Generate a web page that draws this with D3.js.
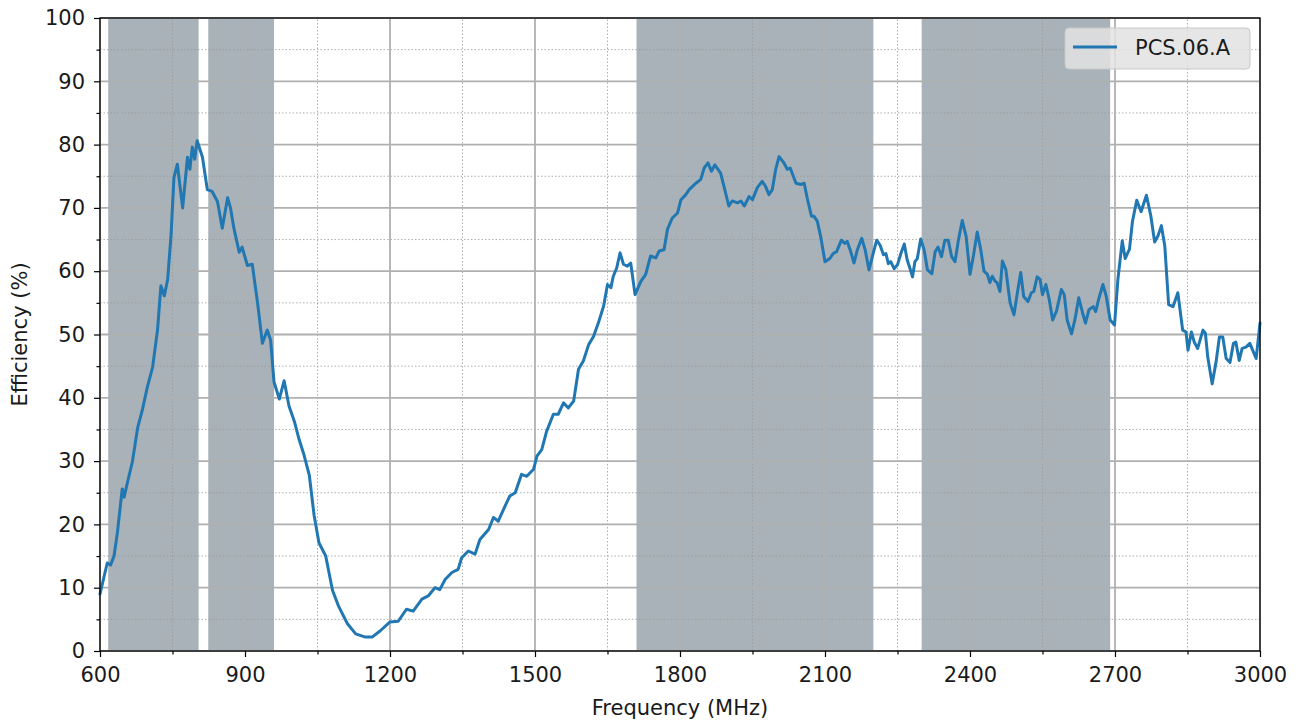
<!DOCTYPE html>
<html lang="en">
<head>
    <meta charset="UTF-8">
    <title>PCS.06.A Efficiency</title>
    <script src="https://d3js.org/d3.v7.min.js"></script>
    <style>
        body{
            margin: 0;
            background: #fff;
        }
        svg text{
            font-family: "DejaVu Sans", sans-serif;
            fill: #1a1a1a;
        }
    </style>
</head>
<body>
    <div id="chart"></div>

    <script>
        // measured points (MHz, %)
        const freqMHz = [
            600,615,622,629,636,646,650,657,667,678,688,698,709,719,726,733,740,747,753,760,
            771,781,786,791,796,801,812,822,832,843,853,864,870,877,888,894,905,915,926,936,
            946,953,960,971,981,991,1002,1012,1022,1033,1043,1053,1067,1081,1094,1112,1129,1149,1163,1180,
            1200,1217,1234,1248,1266,1279,1293,1303,1314,1328,1341,1348,1362,1376,1386,1404,1414,1424,1438,1448,
            1459,1472,1483,1497,1504,1514,1524,1538,1548,1559,1569,1580,1590,1600,1611,1621,1631,1642,1650,1657,
            1662,1669,1676,1683,1691,1698,1707,1719,1729,1739,1750,1757,1767,1774,1784,1795,1802,1812,1819,1826,
            1833,1843,1850,1858,1865,1872,1884,1891,1901,1908,1919,1926,1933,1943,1950,1960,1970,1977,1984,1991,
            1998,2005,2015,2022,2028,2040,2050,2057,2063,2072,2077,2084,2091,2100,2110,2117,2124,2134,2141,2146,
            2152,2160,2167,2176,2183,2191,2199,2207,2214,2221,2226,2231,2236,2243,2250,2257,2264,2270,2276,2281,
            2286,2291,2298,2305,2312,2321,2328,2334,2341,2348,2355,2362,2369,2376,2384,2392,2400,2407,2415,2422,
            2429,2436,2441,2446,2452,2456,2462,2467,2474,2483,2491,2498,2505,2511,2520,2527,2532,2539,2545,2550,
            2557,2564,2571,2579,2589,2595,2601,2610,2617,2625,2633,2639,2646,2655,2660,2666,2675,2682,2690,2699,
            2706,2715,2721,2730,2736,2745,2754,2765,2774,2782,2789,2796,2803,2811,2820,2830,2840,2847,2851,2858,
            2864,2871,2882,2887,2892,2901,2909,2916,2923,2930,2938,2945,2950,2957,2963,2971,2979,2985,2992,3000
        ];
        const efficiency = [
            9,13.9,13.6,15,18.7,25.6,24.3,26.7,29.9,35.3,38.2,41.7,44.9,50.7,57.7,56.1,58.7,65.7,74.8,76.9,
            70,78,76.1,79.6,77.7,80.6,78,72.9,72.6,71,66.8,71.6,70,66.8,63,63.8,60.9,61.1,55,48.6,
            50.7,49.1,42.5,39.8,42.7,38.7,36.3,33.4,31,27.8,21.4,17.1,15,9.6,7,4.3,2.7,2.2,2.2,3.2,
            4.6,4.7,6.6,6.3,8.2,8.7,10,9.7,11.3,12.4,12.9,14.7,15.8,15.3,17.6,19.2,21.1,20.5,22.9,24.5,
            25,27.9,27.6,28.7,30.8,31.8,34.7,37.4,37.4,39.2,38.4,39.5,44.5,45.8,48.4,49.7,51.8,54.5,57.9,57.4,
            59.2,60.5,62.9,61.1,60.8,61.3,56.3,58.4,59.5,62.4,62.1,63.2,63.4,66.6,68.4,69.2,71.3,72.1,72.9,73.4,
            73.9,74.5,76.3,77.1,75.8,76.8,75.5,73.4,70.3,71.1,70.8,71.1,70.3,71.8,71.3,73.2,74.2,73.4,72.1,72.9,
            76.1,78.1,77.1,76.1,76.3,73.9,73.7,73.9,71.6,68.7,68.7,67.9,65.5,61.5,62,62.8,63.1,64.9,64.4,64.7,
            63.4,61.3,63.4,65.2,63.4,60.2,62.6,64.9,64.1,62.6,62.8,61.2,61.5,60.4,61,62.8,64.3,61.8,60.4,59.1,
            61.5,62,65.1,63.4,60.2,59.6,63.1,63.8,62.3,64.9,64.9,62.3,61.5,64.9,68,65.5,59.5,62.4,66.2,63.5,
            60,59.5,58.2,59.2,58.4,58.2,56.8,61.6,60.3,55,53.1,56.6,59.8,56,55.2,56.6,56.8,59.1,58.7,56.3,
            57.9,55.5,52.3,53.7,57.1,56.3,52.3,50.1,52.3,55.8,53.4,51.8,53.9,54.4,53.6,55.5,57.9,56,52.3,51.5,
            58.7,64.8,62,63.5,67.8,71.2,69.4,72,68.8,64.6,65.6,67.2,64,54.7,54.4,56.6,50.7,50.4,47.5,50.4,
            48.8,47.8,50.7,50.2,46.4,42.2,45.6,49.6,49.6,46.2,45.6,48.6,48.8,45.9,47.8,48,48.6,47.5,46.2,51.8
        ];

        // shaded frequency bands (MHz)
        const bandStart = [617, 824, 1710, 2300];
        const bandEnd = [804, 960, 2200, 2690];

        const xTicks = [600, 900, 1200, 1500, 1800, 2100, 2400, 2700, 3000];
        const yTicks = [0, 10, 20, 30, 40, 50, 60, 70, 80, 90, 100];
        const seriesName = "PCS.06.A";

        const width = 1302;
        const height = 724;
        const margin = {top: 18, right: 42, bottom: 73, left: 100};
        const fontSize = "21px";

        const svg = d3.select("#chart")
            .append("svg")
            .attr("width", width)
            .attr("height", height);

        const x = d3.scaleLinear()
            .domain([600, 3000])
            .range([margin.left, width - margin.right]);
        const y = d3.scaleLinear()
            .domain([0, 100])
            .range([height - margin.bottom, margin.top]);

        // bands
        svg.selectAll(".band")
            .data(bandStart)
            .enter().append("rect")
            .attr("class", "band")
            .attr("x", (d) => x(d))
            .attr("y", y(100))
            .attr("width", (d, i) => x(bandEnd[i]) - x(d))
            .attr("height", y(0) - y(100))
            .attr("fill", "#a8b2b8");

        // minor grid (dotted)
        const xMinor = d3.range(750, 3000, 300);
        const yMinor = d3.range(5, 100, 10);
        svg.append("g")
            .selectAll("line")
            .data(xMinor)
            .enter().append("line")
            .attr("x1", d => x(d)).attr("x2", d => x(d))
            .attr("y1", y(0)).attr("y2", y(100))
            .attr("stroke", "#9a9a9a")
            .attr("stroke-opacity", 0.8)
            .attr("stroke-width", 1)
            .attr("stroke-dasharray", "1.5,2");
        svg.append("g")
            .selectAll("line")
            .data(yMinor)
            .enter().append("line")
            .attr("x1", x(600)).attr("x2", x(3000))
            .attr("y1", d => y(d)).attr("y2", d => y(d))
            .attr("stroke", "#9a9a9a")
            .attr("stroke-opacity", 0.8)
            .attr("stroke-width", 1)
            .attr("stroke-dasharray", "1.5,2");

        // major grid
        svg.append("g")
            .selectAll("line")
            .data(xTicks)
            .enter().append("line")
            .attr("x1", d => x(d)).attr("x2", d => x(d))
            .attr("y1", y(0)).attr("y2", y(100))
            .attr("stroke", "#b0b0b0")
            .attr("stroke-width", 1.8);
        svg.append("g")
            .selectAll("line")
            .data(yTicks)
            .enter().append("line")
            .attr("x1", x(600)).attr("x2", x(3000))
            .attr("y1", d => y(d)).attr("y2", d => y(d))
            .attr("stroke", "#b0b0b0")
            .attr("stroke-width", 1.8);

        // efficiency curve
        const points = freqMHz.map((f, i) => ({f: f, v: efficiency[i]}));
        const line = d3.line()
            .x(d => x(d.f))
            .y(d => y(d.v));
        svg.append("path")
            .datum(points)
            .attr("d", line)
            .attr("fill", "none")
            .attr("stroke", "#2077b2")
            .attr("stroke-width", 3)
            .attr("stroke-linejoin", "round")
            .attr("stroke-linecap", "round");

        // frame
        svg.append("rect")
            .attr("x", x(600))
            .attr("y", y(100))
            .attr("width", x(3000) - x(600))
            .attr("height", y(0) - y(100))
            .attr("fill", "none")
            .attr("stroke", "#000")
            .attr("stroke-width", 1.3);

        // axes
        const xAxis = svg.append("g")
            .attr("transform", `translate(0,${y(0)})`)
            .call(d3.axisBottom(x).tickValues(xTicks).tickSize(6).tickPadding(10).tickFormat(d3.format("d")));
        const yAxis = svg.append("g")
            .attr("transform", `translate(${x(600)},0)`)
            .call(d3.axisLeft(y).tickValues(yTicks).tickSize(6).tickPadding(9));
        svg.append("g")
            .attr("transform", `translate(0,${y(0)})`)
            .call(d3.axisBottom(x).tickValues(xMinor).tickSize(3.5).tickFormat(""));
        svg.append("g")
            .attr("transform", `translate(${x(600)},0)`)
            .call(d3.axisLeft(y).tickValues(yMinor).tickSize(3.5).tickFormat(""));

        svg.selectAll(".domain").remove();
        svg.selectAll(".tick line").attr("stroke", "#000").attr("stroke-width", 1.2);
        xAxis.selectAll("text").style("font-size", fontSize);
        yAxis.selectAll("text").style("font-size", fontSize);

        svg.append("text")
            .attr("x", (x(600) + x(3000)) / 2)
            .attr("y", 715)
            .attr("text-anchor", "middle")
            .style("font-size", fontSize)
            .text("Frequency (MHz)");
        svg.append("text")
            .attr("transform", `translate(27,${(y(0) + y(100)) / 2}) rotate(-90)`)
            .attr("text-anchor", "middle")
            .style("font-size", fontSize)
            .text("Efficiency (%)");

        // legend
        const legend = svg.append("g").attr("transform", "translate(1065,28)");
        legend.append("rect")
            .attr("width", 185)
            .attr("height", 41)
            .attr("rx", 4)
            .attr("fill", "#e2e2e2")
            .attr("fill-opacity", 0.85)
            .attr("stroke", "#c8c8c8");
        legend.append("line")
            .attr("x1", 8).attr("x2", 52)
            .attr("y1", 19).attr("y2", 19)
            .attr("stroke", "#2077b2")
            .attr("stroke-width", 3);
        legend.append("text")
            .attr("x", 70)
            .attr("y", 27)
            .style("font-size", fontSize)
            .text(seriesName);
    </script>
</body>
</html>
